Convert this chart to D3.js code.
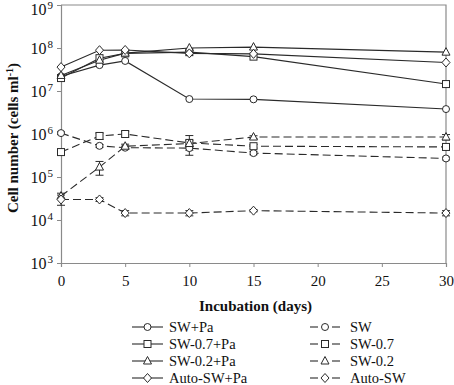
<!DOCTYPE html>
<html>
<head>
<meta charset="utf-8">
<script src="https://cdn.jsdelivr.net/npm/d3@7"></script>
<style>
  body { margin: 0; background: #fff; }
  svg text { font-family: "Liberation Serif", "DejaVu Serif", serif !important; fill: #111; }
</style>
</head>
<body>
<svg id="chart" width="454" height="385" font-family="Liberation Serif"></svg>
<script>
// data
const days = [0, 3, 5, 10, 15, 30]
const xTicks = [0, 5, 10, 15, 20, 25, 30]
const yTickExps = [3, 4, 5, 6, 7, 8, 9]

const swPa = [2.2e7, 4.0e7, 5.0e7, 6.5e6, 6.4e6, 3.8e6]
const sw07Pa = [2.0e7, 5.8e7, 7.5e7, 8.0e7, 6.3e7, 1.45e7]
const sw02Pa = [2.3e7, 5.2e7, 7.6e7, 1.0e8, 1.05e8, 8.0e7]
const autoSwPa = [3.6e7, 8.9e7, 9.0e7, 7.5e7, 7.3e7, 4.6e7]

const sw = [1.05e6, 5.3e5, 4.8e5, 4.7e5, 3.6e5, 2.7e5]
const sw07 = [3.8e5, 9.0e5, 1.0e6, 6.2e5, 5.2e5, 5.0e5]
const sw02 = [3.6e4, 1.7e5, 5.2e5, 6.0e5, 8.5e5, 8.5e5]
const autoSw = [3.0e4, 3.0e4, 1.45e4, 1.45e4, 1.65e4, 1.45e4]

// standard deviations (dashed series only have visible bars)
const swErr = [8e4, 4e4, 4e4, 5e4, 3e4, 2e4]
const sw07Err = [4e4, 1.5e5, 1.5e5, 3e5, 5e4, 5e4]
const sw02Err = [6e3, 6e4, 6e4, 1e5, 6e4, 1.2e5]
const autoSwErr = [8e3, 3e3, 2e3, 2e3, 1e3, 2e3]

const series = [
  {name: 'SW+Pa', values: swPa, err: null, shape: 'circle', dashed: false},
  {name: 'SW-0.7+Pa', values: sw07Pa, err: null, shape: 'square', dashed: false},
  {name: 'SW-0.2+Pa', values: sw02Pa, err: null, shape: 'triangle', dashed: false},
  {name: 'Auto-SW+Pa', values: autoSwPa, err: null, shape: 'diamond', dashed: false},
  {name: 'SW', values: sw, err: swErr, shape: 'circle', dashed: true},
  {name: 'SW-0.7', values: sw07, err: sw07Err, shape: 'square', dashed: true},
  {name: 'SW-0.2', values: sw02, err: sw02Err, shape: 'triangle', dashed: true},
  {name: 'Auto-SW', values: autoSw, err: autoSwErr, shape: 'diamond', dashed: true},
]

const FONT = '"Liberation Serif", "DejaVu Serif", serif'
const svg = d3.select('#chart')
const margin = {top: 5, left: 61, right: 8, bottom: 122}
const W = 454, H = 385
const x = d3.scaleLinear().domain([0, 30]).range([margin.left, W - margin.right])
const y = d3.scaleLog().domain([1e3, 1e9]).range([H - margin.bottom, margin.top])

const axisColor = '#8a8a8a'
const lineColor = '#2a2a2a'

// frame (top + right)
svg.append('path')
  .attr('d', `M${x(0)},${y(1e9)}H${x(30)}V${y(1e3)}`)
  .attr('fill', 'none').attr('stroke', axisColor).attr('stroke-width', 1.2)

// x axis
const xAxis = svg.append('g')
  .attr('transform', `translate(0,${y(1e3)})`)
  .call(d3.axisBottom(x).tickValues(xTicks).tickSize(4).tickPadding(8).tickFormat(d3.format('d')))
  .attr('font-family', FONT)
xAxis.select('.domain').attr('stroke', axisColor).attr('stroke-width', 1.2)
xAxis.selectAll('.tick line').attr('stroke', axisColor)
xAxis.selectAll('.tick text').attr('font-size', 15).attr('fill', '#111')

// y axis
const yAxis = svg.append('g')
  .attr('transform', `translate(${x(0)},0)`)
  .call(d3.axisLeft(y).tickValues(yTickExps.map((e) => Math.pow(10, e))).tickSize(4).tickFormat(''))
yAxis.select('.domain').attr('stroke', axisColor).attr('stroke-width', 1.2)
yAxis.selectAll('.tick line').attr('stroke', axisColor)

// y tick labels 10^n (top one nudged down so it stays inside the page)
const yLab = svg.append('g').attr('font-family', FONT)
yTickExps.forEach((e) => {
  const base = Math.max(y(Math.pow(10, e)) + 6, 15)
  const t = yLab.append('text')
    .attr('x', x(0) - 8)
    .attr('y', base)
    .attr('text-anchor', 'end')
    .attr('font-size', 16)
  t.append('tspan').text('10')
  t.append('tspan').attr('dy', -6).attr('dx', 1).attr('font-size', 11).text(e)
})

// axis titles
svg.append('text')
  .attr('x', (x(0) + x(30)) / 2 + 2)
  .attr('y', 311)
  .attr('text-anchor', 'middle')
  .attr('font-size', 15)
  .attr('font-weight', 'bold')
  .text('Incubation (days)')

const yt = svg.append('text')
  .attr('transform', `translate(18,${(y(1e3) + y(1e9)) / 2 + 4}) rotate(-90)`)
  .attr('text-anchor', 'middle')
  .attr('font-size', 15)
  .attr('font-weight', 'bold')
yt.append('tspan').text('Cell number (cells ml')
yt.append('tspan').attr('dy', -5).attr('font-size', 10).text('-1')
yt.append('tspan').attr('dy', 5).text(')')

// marker shapes
function marker(g, shape, cx, cy) {
  let el
  if (shape === 'circle') {
    el = g.append('circle').attr('cx', cx).attr('cy', cy).attr('r', 3.5)
  } else if (shape === 'square') {
    el = g.append('rect').attr('x', cx - 3.5).attr('y', cy - 3.5).attr('width', 7).attr('height', 7)
  } else if (shape === 'triangle') {
    el = g.append('path').attr('d', `M${cx},${cy - 4.5}L${cx + 4},${cy + 3}L${cx - 4},${cy + 3}Z`)
  } else {
    el = g.append('path').attr('d', `M${cx},${cy - 4.5}L${cx + 4},${cy}L${cx},${cy + 4.5}L${cx - 4},${cy}Z`)
  }
  el.attr('fill', '#fff').attr('stroke', lineColor).attr('stroke-width', 1)
}

const line = d3.line().x((d) => x(d[0])).y((d) => y(d[1]))

// lines first
const plot = svg.append('g')
series.forEach((s) => {
  plot.append('path')
    .datum(days.map((d, i) => [d, s.values[i]]))
    .attr('d', line)
    .attr('fill', 'none')
    .attr('stroke', lineColor)
    .attr('stroke-width', 1.1)
    .attr('stroke-dasharray', s.dashed ? '8,4' : null)
})

// error bars
series.filter((s) => s.err).forEach((s) => {
  const g = plot.append('g').attr('stroke', lineColor).attr('stroke-width', 1)
  days.forEach((d, i) => {
    const hi = y(s.values[i] + s.err[i])
    const lo = y(Math.max(s.values[i] - s.err[i], 1e3))
    const cx = x(d)
    g.append('line').attr('x1', cx).attr('x2', cx).attr('y1', hi).attr('y2', lo)
    g.append('line').attr('x1', cx - 4).attr('x2', cx + 4).attr('y1', hi).attr('y2', hi)
    g.append('line').attr('x1', cx - 4).attr('x2', cx + 4).attr('y1', lo).attr('y2', lo)
  })
})

// markers
series.forEach((s) => {
  const g = plot.append('g')
  days.forEach((d, i) => marker(g, s.shape, x(d), y(s.values[i])))
})

// legend
const legend = svg.append('g')
const rowY = [327, 344, 361, 378]
series.forEach((s, i) => {
  const col = s.dashed ? 1 : 0
  const row = i % 4
  const x0 = col ? 310 : 132
  const x1 = col ? 340 : 163
  const cy = rowY[row]
  const g = legend.append('g')
  if (s.dashed) {
    g.append('line').attr('x1', x0).attr('x2', x0 + 8).attr('y1', cy).attr('y2', cy)
      .attr('stroke', lineColor).attr('stroke-width', 1.1)
    g.append('line').attr('x1', x1 - 8).attr('x2', x1).attr('y1', cy).attr('y2', cy)
      .attr('stroke', lineColor).attr('stroke-width', 1.1)
  } else {
    g.append('line').attr('x1', x0).attr('x2', x1).attr('y1', cy).attr('y2', cy)
      .attr('stroke', lineColor).attr('stroke-width', 1.1)
  }
  marker(g, s.shape, (x0 + x1) / 2, cy)
  g.append('text')
    .attr('x', col ? 350 : 169)
    .attr('y', cy + 5)
    .attr('font-size', 14.5)
    .text(s.name)
})
</script>
</body>
</html>
